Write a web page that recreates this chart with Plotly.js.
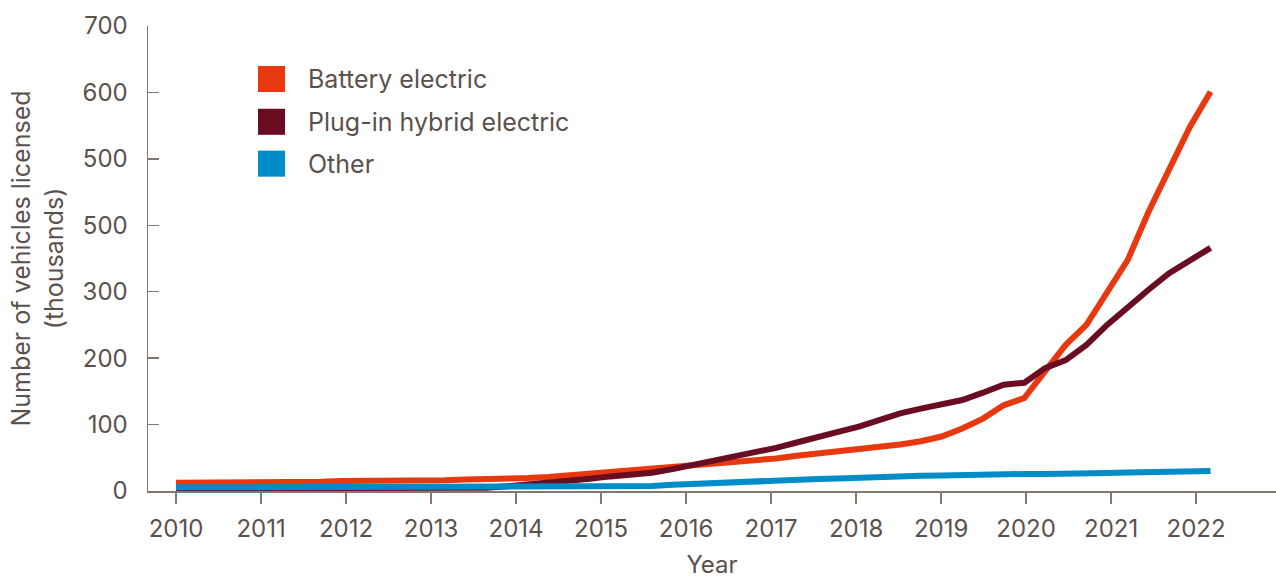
<!DOCTYPE html>
<html>
<head>
<meta charset="utf-8">
<script src="https://cdn.plot.ly/plotly-3.0.1.min.js"></script>
<style>
  html, body { margin: 0; padding: 0; background: #ffffff; }
  #chart { width: 1276px; height: 579px; }
</style>
</head>
<body>
<div id="chart"></div>
<script>
// Quarterly readings, 2010 Q1 onward (thousands of vehicles licensed)
const seriesNames = ["Battery electric", "Plug-in hybrid electric", "Other"];
const seriesColors = ["#e8380f", "#6a0d23", "#008cc6"];

const batteryElectric = [
  12.5, 12.5, 12.5, 12.5, 12.5, 12.5, 12.5, 14, 15, 15,
  15, 15, 15, 16, 17.5, 17.5, 18, 19.5, 21, 23.5,
  25.5, 27.5, 30.5, 33, 35.5, 37.5, 40, 43, 46, 49,
  53, 56, 59, 62, 65, 70, 75, 82, 94, 109,
  129, 140, 180, 220, 250, 298, 348, 420, 486, 548,
  601
];
const plugInHybrid = [
  4, 4, 4, 4, 4, 4, 4, 4, 4, 4,
  4, 4, 4, 4, 4.5, 5, 7, 9.5, 12, 15,
  18.5, 22, 24.5, 27.5, 33, 39.5, 44, 51, 59, 65,
  73, 80, 89, 97, 108, 117, 124, 130, 137, 148,
  160, 163, 185, 197, 220, 250, 277, 303, 328, 347,
  366
];
const otherVehicles = [
  5.5, 5.5, 5.5, 5.5, 5.5, 5.5, 5.5, 5.5, 5.5, 5.5,
  5.5, 5.5, 5.5, 5.5, 5.5, 6, 6, 6.5, 6.5, 7,
  7, 7, 7, 7.5, 9.5, 11, 12, 13.5, 15, 16.5,
  17, 18, 19, 20.5, 21, 22, 23, 23.5, 24.5, 25.5,
  25.6, 25.6, 25.6, 25.6, 25.6, 27, 28, 28, 28, 29.5,
  30
];

const yearTicks = [2010, 2011, 2012, 2013, 2014, 2015, 2016, 2017, 2018, 2019, 2020, 2021, 2022];
const yTickVals = [0, 100, 200, 300, 400, 500, 600, 700];
const yTickText = ["0", "100", "200", "300", "500", "500", "600", "700"];

// position of each quarterly reading along the year axis
const firstYear = 2010;
const lastPosition = 2022.17;
const xPos = batteryElectric.map((_, i) => firstYear + i * (lastPosition - firstYear) / (batteryElectric.length - 1));

const allSeries = [batteryElectric, plugInHybrid, otherVehicles];
const traces = allSeries.map((vals, k) => ({
  type: "scatter",
  mode: "lines",
  x: xPos,
  y: vals,
  name: seriesNames[k],
  line: { color: seriesColors[k], width: 6 },
  showlegend: false,
  hoverinfo: "skip"
}));

const textColor = "#5b514c";
const axisColor = "#82786f";
const font = "Inter, 'Open Sans', Roboto, sans-serif";

// legend drawn as squares + labels (paper coordinates)
const legendTop = [0.914, 0.822, 0.732];
const boxH = 0.056;
const shapes = legendTop.map((t, k) => ({
  type: "rect", xref: "paper", yref: "paper",
  x0: 0.0975, x1: 0.1215, y0: t - boxH, y1: t,
  fillcolor: seriesColors[k], line: { width: 0 }
}));
const annotations = legendTop.map((t, k) => ({
  xref: "paper", yref: "paper",
  x: 0.1405, y: t - boxH / 2,
  xanchor: "left", yanchor: "middle",
  text: seriesNames[k], showarrow: false,
  font: { family: font, size: 25, color: textColor }
}));

const layout = {
  width: 1276, height: 579,
  margin: { l: 148, r: 0, t: 26, b: 88 },
  paper_bgcolor: "#ffffff", plot_bgcolor: "#ffffff",
  font: { family: font, color: textColor },
  showlegend: false,
  xaxis: {
    range: [2009.67, 2022.94],
    tickvals: yearTicks,
    ticktext: yearTicks.map(String),
    ticks: "outside", ticklen: 11, tickwidth: 1.5, tickcolor: axisColor,
    showline: true, linecolor: axisColor, linewidth: 1.5,
    showgrid: false, zeroline: false,
    tickfont: { family: font, size: 24, color: textColor },
    ticklabelstandoff: 5,
    title: { text: "Year", font: { family: font, size: 24, color: textColor }, standoff: 20 },
    automargin: false
  },
  yaxis: {
    range: [0, 700],
    tickvals: yTickVals,
    ticktext: yTickText,
    ticks: "inside", ticklen: 11, tickwidth: 1.5, tickcolor: axisColor,
    showline: true, linecolor: axisColor, linewidth: 1.5,
    showgrid: false, zeroline: false,
    tickfont: { family: font, size: 24, color: textColor },
    ticklabelstandoff: 14,
    title: { text: "Number of vehicles licensed<br>(thousands)", font: { family: font, size: 25, color: textColor }, standoff: 12 },
    automargin: false
  },
  shapes: shapes,
  annotations: annotations
};

Plotly.newPlot("chart", traces, layout, { displayModeBar: false, staticPlot: true });
</script>
</body>
</html>
